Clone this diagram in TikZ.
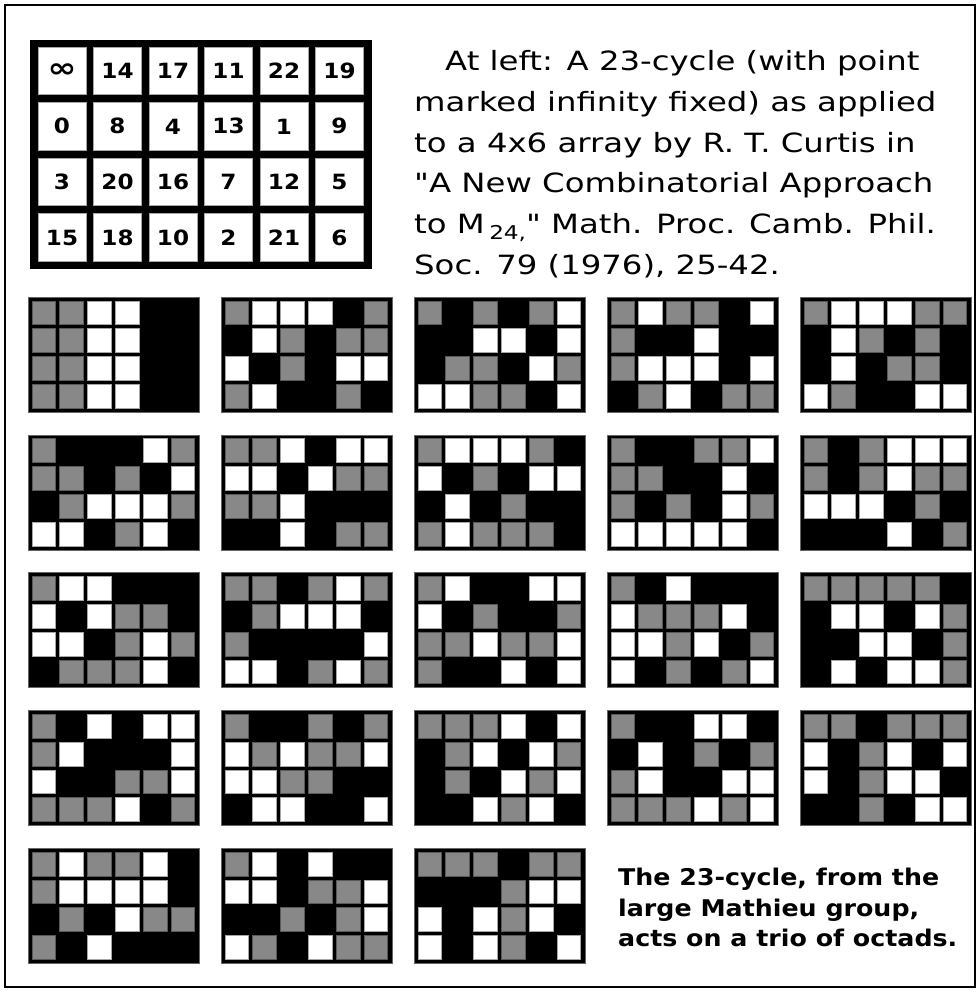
\documentclass[tikz,border=0pt]{standalone}
\usepackage{fontspec}
\setmainfont{DejaVu Sans}
\newfontfamily\topfont[FakeStretch=1.22]{DejaVu Sans}
\newfontfamily\tabfont[FakeStretch=1.1]{DejaVu Sans}
\newfontfamily\botfont[FakeStretch=1.1]{DejaVu Sans}
\definecolor{cellgray}{RGB}{136,136,136}
\tikzset{
  gridbg/.style={fill=black, draw=black!60, line width=0.6pt},
  gcell/.style={fill=cellgray, draw=black!65, line width=0.8pt},
  wcell/.style={fill=white, draw=black!35, line width=0.8pt},
  tabcell/.style={fill=white, draw=black!35, line width=0.6pt, minimum width=48pt, minimum height=47.5pt, inner sep=0pt, font=\tabfont\bfseries\fontsize{21}{21}\selectfont},
  toptext/.style={anchor=base west, inner sep=0pt, font=\topfont\fontsize{26.5}{26.5}\selectfont},
  bottext/.style={anchor=base west, inner sep=0pt, font=\botfont\bfseries\fontsize{23}{23}\selectfont},
  frameline/.style={draw=black, line width=2pt}
}
\newcommand{\infsym}{\scalebox{1.5}[1.3]{∞}}
\newcommand{\octgrid}[3]{%
  \path[gridbg] (#1,#2) rectangle ++(171,115);
  \foreach \v [count=\k from 0] in {#3} {%
    \pgfmathtruncatemacro\cc{mod(\k,6)}%
    \pgfmathtruncatemacro\rr{div(\k,6)}%
    \ifnum\v=1 \path[gcell] ({#1+4+27.8*\cc},{#2+4+27.8*\rr}) rectangle ++(23.8,23.8);\fi
    \ifnum\v=2 \path[wcell] ({#1+4+27.8*\cc},{#2+4+27.8*\rr}) rectangle ++(23.8,23.8);\fi
  }%
}
\begin{document}
\begin{tikzpicture}[x=1pt, y=-1pt]
\useasboundingbox (0,0) rectangle (979,992);
\fill[white] (0,0) rectangle (979,992);
\path[frameline] (5,5) rectangle (975,987);

% numbered table
\path[fill=black] (30,40) rectangle (372,269);
\foreach \t [count=\k from 0] in {\infsym,14,17,11,22,19,0,8,4,13,1,9,3,20,16,7,12,5,15,18,10,2,21,6} {
  \pgfmathsetmacro\cx{38+55.5*mod(\k,6)+24}
  \pgfmathsetmacro\cy{47+55.6*div(\k,6)+23.75}
  \node[tabcell] (c\k) at (\cx,\cy) {\t};
}

% top text
\node[toptext] (l1) at (445,71) {At left: A 23-cycle (with point};
\node[toptext] (l2) at (414,111.6) {marked infinity fixed) as applied};
\node[toptext] (l3) at (414,152.2) {to a 4x6 array by R. T. Curtis in};
\node[toptext] (l4) at (414,192.8) {"A New Combinatorial Approach};
\node[toptext] (l5) at (414,233.4) {to M\,\raisebox{-6pt}{\fontsize{19}{19}\selectfont 24,}" Math. Proc. Camb. Phil.};
\node[toptext] (l6) at (414,274) {Soc. 79 (1976), 25-42.};

% row 1
\octgrid{28}{297}{1,1,2,2,0,0, 1,1,2,2,0,0, 1,1,2,2,0,0, 1,1,2,2,0,0}
\octgrid{221}{297}{1,2,2,2,0,1, 0,2,1,0,1,1, 2,0,1,0,2,2, 1,2,0,0,1,0}
\octgrid{414}{297}{1,0,1,0,1,2, 0,0,2,2,0,2, 0,1,1,0,2,1, 2,2,1,1,0,2}
\octgrid{607}{297}{1,2,1,1,0,2, 1,0,0,2,0,0, 1,2,2,2,0,2, 0,1,2,0,1,1}
\octgrid{800}{297}{1,2,2,2,1,1, 0,2,1,0,1,0, 0,2,0,1,1,0, 2,1,0,0,2,2}
% row 2
\octgrid{28}{434.8}{1,0,0,0,2,1, 1,1,0,1,0,2, 0,1,2,2,2,1, 2,2,0,1,2,0}
\octgrid{221}{434.8}{1,1,2,0,2,2, 2,2,0,2,1,1, 1,1,2,0,0,0, 0,0,2,0,1,1}
\octgrid{414}{434.8}{1,2,2,2,1,0, 2,0,1,0,2,2, 0,2,0,1,0,0, 1,2,1,1,1,0}
\octgrid{607}{434.8}{1,0,0,1,1,2, 1,1,0,0,2,0, 1,0,1,0,2,1, 2,2,2,2,2,0}
\octgrid{800}{434.8}{1,0,1,2,2,2, 1,0,1,2,1,1, 2,2,2,0,1,0, 0,0,0,2,0,1}
% row 3
\octgrid{28}{572.6}{1,2,2,0,0,0, 2,0,2,1,1,0, 2,2,0,1,2,1, 0,1,1,1,2,0}
\octgrid{221}{572.6}{1,1,0,1,2,1, 0,1,2,2,2,0, 1,0,0,0,0,2, 2,2,0,1,2,1}
\octgrid{414}{572.6}{1,2,0,0,2,2, 2,0,1,0,0,1, 1,1,2,1,1,2, 1,0,0,2,0,2}
\octgrid{607}{572.6}{1,0,2,0,0,0, 2,1,1,1,2,0, 2,2,1,2,0,1, 2,0,1,0,1,2}
\octgrid{800}{572.6}{1,1,1,1,1,0, 0,2,2,0,2,1, 0,0,2,2,0,1, 0,2,0,2,2,1}
% row 4
\octgrid{28}{710.4}{1,0,2,0,2,2, 1,2,0,0,0,2, 2,0,0,1,1,2, 1,1,1,2,0,1}
\octgrid{221}{710.4}{1,0,0,1,0,1, 2,1,2,1,1,2, 2,2,1,1,0,0, 0,2,2,0,0,2}
\octgrid{414}{710.4}{1,1,1,2,0,2, 0,1,2,0,2,1, 0,1,0,2,1,2, 0,0,2,1,2,0}
\octgrid{607}{710.4}{1,0,0,2,2,0, 0,2,0,1,0,1, 1,2,0,0,2,2, 1,1,1,2,1,2}
\octgrid{800}{710.4}{1,1,0,1,1,1, 2,0,1,2,0,2, 2,0,1,2,2,0, 0,0,1,0,2,2}
% row 5
\octgrid{28}{848.2}{1,2,1,1,2,0, 1,2,2,2,2,0, 0,1,0,2,1,1, 1,0,2,0,0,0}
\octgrid{221}{848.2}{1,2,0,2,0,0, 2,2,0,1,1,2, 0,0,1,0,1,2, 2,1,0,2,1,1}
\octgrid{414}{848.2}{1,1,1,0,1,1, 0,0,0,1,2,2, 2,0,2,1,2,0, 2,0,2,1,0,2}

% bottom text
\node[bottext] (b1) at (618,885) {The 23-cycle, from the};
\node[bottext] (b2) at (618,916.7) {large Mathieu group,};
\node[bottext] (b3) at (618,946.7) {acts on a trio of octads.};
\end{tikzpicture}
\end{document}
